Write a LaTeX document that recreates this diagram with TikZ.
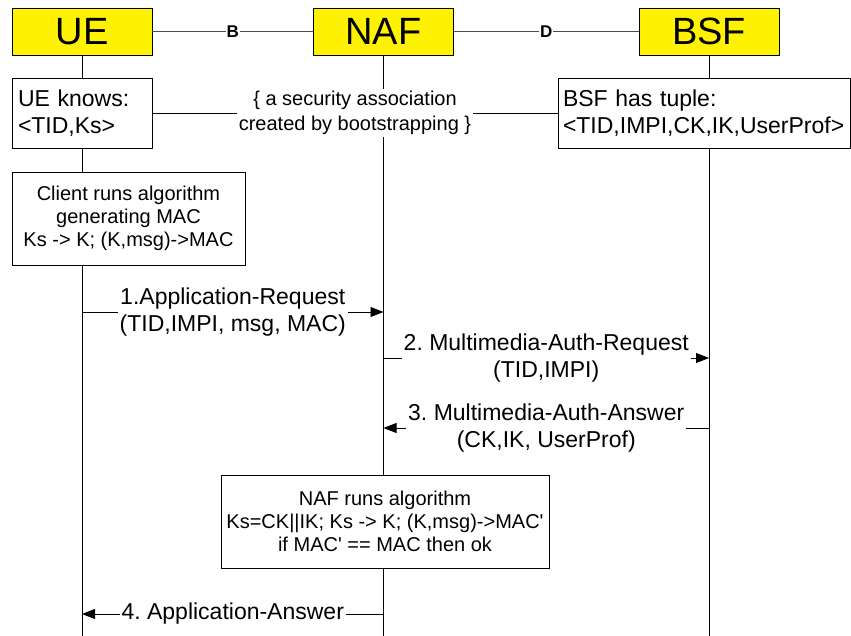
\documentclass[tikz,border=0pt]{standalone}
\usepackage{fontspec}
\setmainfont{Liberation Sans}
\usetikzlibrary{arrows.meta,positioning}
\frenchspacing

\begin{document}
\begin{tikzpicture}[
    x=1pt, y=-1pt,
    line width=0.9pt,
    node distance=300pt,
    entity/.style={rectangle, draw, fill=yellow, minimum width=140pt, minimum height=47pt, inner sep=0pt, font=\fontsize{38}{40}\selectfont},
    box/.style={rectangle, draw, fill=white, align=center, inner sep=0pt, minimum height=93pt, font=\fontsize{20}{23}\selectfont},
    info/.style={rectangle, draw, fill=white, align=left, minimum height=70pt, inner xsep=6pt, font=\fontsize{23}{27.5}\selectfont},
    msg/.style={fill=white, align=center, inner xsep=2pt, inner ysep=1pt, font=\fontsize{23}{27}\selectfont},
    iface/.style={fill=white, text=black, inner sep=1pt, font=\fontsize{17}{18}\selectfont\bfseries},
    arrow/.style={-{Triangle[length=13pt,width=10pt]}}
]
    \useasboundingbox (0,0) rectangle (851,636);

    % entities
    \node[entity] (ue) at (82,31.5) {UE};
    \node[entity, right of=ue, node distance=301.5pt] (naf) {NAF};
    \node[entity, right of=naf, node distance=325.5pt] (bsf) {BSF};

    % lifelines
    \coordinate (bottom) at (0,636);
    \foreach \n in {ue,naf,bsf}
        \draw (\n.south) -- (\n.south |- bottom);

    \draw[black!70] (ue) -- node[iface] {B} (naf);
    \draw[black!70] (naf) -- node[iface] {D} (bsf);

    % shared keys
    \node[info, text width=128pt, below of=ue, node distance=81.5pt] (uekeys) {UE knows:\\<TID,Ks>};
    \node[info, text width=282pt, inner xsep=5pt] (bsfkeys) at (704,113) {BSF has tuple:\\<TID,IMPI,CK,IK,UserProf>};
    \draw (uekeys) -- node[fill=white, align=center, inner sep=2pt, font=\fontsize{20}{25}\selectfont]
        {\{ a security association\\created by bootstrapping \}} (bsfkeys);

    \node[box, minimum width=233pt] (clientalg) at (128.5,218.5)
        {Client runs algorithm\\generating MAC\\Ks -> K; (K,msg)->MAC};

    % messages
    \coordinate (m1) at (0,312);
    \coordinate (m2) at (0,358);
    \coordinate (m3) at (0,428);
    \coordinate (m4) at (0,614);
    \draw[arrow] (ue |- m1) -- node[msg] {1.Application-Request\\(TID,IMPI, msg, MAC)} (naf |- m1);
    \draw[arrow] (naf |- m2) -- node[msg] {2. Multimedia-Auth-Request\\(TID,IMPI)} (bsf |- m2);
    \draw[arrow] (bsf |- m3) -- node[msg] {3. Multimedia-Auth-Answer\\(CK,IK, UserProf)} (naf |- m3);

    \node[box, minimum width=328pt] (nafalg) at (385,521.5)
        {NAF runs algorithm\\Ks=CK||IK; Ks -> K; (K,msg)->MAC\textquotesingle\\if MAC\textquotesingle{} == MAC then ok};

    \draw[arrow] (naf |- m4) -- node[msg] {4. Application-Answer} (ue |- m4);
\end{tikzpicture}
\end{document}
